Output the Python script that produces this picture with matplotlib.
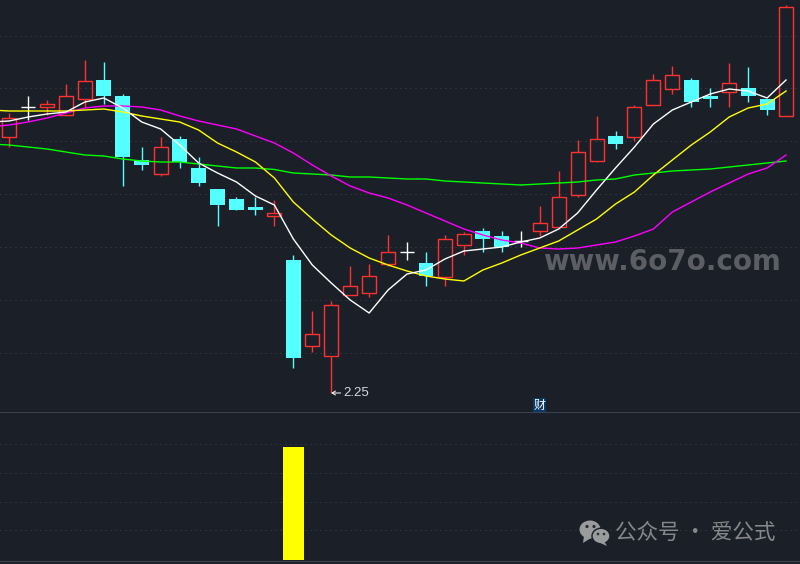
import numpy as np
import matplotlib
matplotlib.use("Agg")
import matplotlib.pyplot as plt
from matplotlib.patches import Ellipse, Polygon

# candle values: body top, body bottom, high, low
body_top = [5.00,5.11,5.14,5.22,5.37,5.38,5.22,4.58,4.71,4.79,4.50,4.29,4.19,4.11,4.05,3.58,2.84,3.13,3.32,3.42,3.66,3.66,3.55,3.79,3.84,3.87,3.82,3.77,3.95,4.21,4.66,4.79,4.82,5.11,5.38,5.43,5.38,5.22,5.35,5.30,5.19,6.11]
body_bot = [4.81,5.11,5.11,5.03,5.19,5.22,4.61,4.53,4.44,4.56,4.35,4.13,4.08,4.08,4.02,2.60,2.72,2.62,3.23,3.25,3.54,3.66,3.42,3.41,3.73,3.79,3.71,3.77,3.87,3.91,4.23,4.57,4.74,4.81,5.13,5.29,5.16,5.19,5.26,5.22,5.08,5.02]
highs = [5.05,5.22,5.18,5.34,5.58,5.56,5.24,4.71,4.81,4.82,4.61,4.29,4.21,4.21,4.18,3.63,3.07,3.17,3.52,3.54,3.83,3.76,3.66,3.83,3.86,3.90,3.87,3.87,4.12,4.47,4.78,5.02,4.87,5.13,5.44,5.52,5.40,5.30,5.55,5.51,5.19,6.13]
lows = [4.71,4.98,5.03,5.03,5.11,5.14,4.32,4.48,4.42,4.50,4.32,3.92,4.08,4.03,3.92,2.50,2.66,2.25,3.23,3.21,3.52,3.58,3.32,3.32,3.63,3.66,3.66,3.71,3.82,3.91,4.21,4.56,4.69,4.77,5.13,5.24,5.11,5.11,5.11,5.16,5.03,5.02]
# r = up (hollow red), c = down (solid cyan), d = doji (white cross)
kinds = list("rdrrrcccrccccc") + list("rcrrrrrdcrrccd") + list("rrrrcrrrccrccr")

ma_white = [4.96,4.97,5.01,5.04,5.06,5.16,5.20,5.10,4.96,4.89,4.73,4.55,4.45,4.36,4.22,4.13,3.79,3.53,3.35,3.18,3.05,3.28,3.44,3.48,3.59,3.67,3.69,3.71,3.76,3.80,3.89,4.05,4.28,4.50,4.71,4.94,5.08,5.16,5.24,5.29,5.27,5.20,5.38]
ma_yellow = [5.08,5.07,5.07,5.07,5.07,5.08,5.09,5.06,5.02,4.99,4.96,4.88,4.75,4.66,4.56,4.40,4.16,3.99,3.83,3.70,3.60,3.53,3.47,3.42,3.39,3.37,3.48,3.55,3.63,3.70,3.77,3.88,3.99,4.14,4.26,4.43,4.58,4.73,4.86,5.01,5.10,5.14,5.27]
ma_magenta = [4.91,4.93,4.96,5.00,5.05,5.10,5.12,5.12,5.11,5.08,5.02,4.97,4.93,4.89,4.82,4.75,4.65,4.53,4.42,4.32,4.25,4.20,4.13,4.05,3.97,3.89,3.83,3.78,3.75,3.70,3.69,3.70,3.73,3.76,3.82,3.89,4.06,4.16,4.26,4.35,4.44,4.50,4.63]
ma_green = [4.74,4.73,4.71,4.69,4.66,4.63,4.62,4.59,4.57,4.56,4.56,4.54,4.52,4.50,4.50,4.485,4.45,4.44,4.43,4.41,4.41,4.40,4.39,4.39,4.37,4.36,4.35,4.34,4.33,4.34,4.35,4.36,4.38,4.39,4.43,4.45,4.47,4.48,4.49,4.51,4.53,4.55,4.57]
volume = {15: 113}
price_grid = [5.82, 5.30, 4.77, 4.24, 3.71, 3.18, 2.65]
vol_grid = [116, 87, 58, 30]
low_value = 2.25
low_index = 17

BG = "#1b1f28"; RED = "#ff3232"; CYAN = "#54ffff"; GRID = "#3f434c"; EDGE = "#38424f"
PX = 0.72
W, H = 800, 564
fig = plt.figure(figsize=(W/100, H/100), dpi=100, facecolor=BG)
top_px, split_px, bot_px = 0, 412.3, 561.3
ax = fig.add_axes([0, 1 - split_px/H, 1, split_px/H])
axv = fig.add_axes([0, 1 - bot_px/H, 1, (bot_px - split_px)/H])
ax.set_zorder(2); ax.patch.set_alpha(1)
x0 = 9.1
xlim = (-x0/18.95, (800 - x0)/18.95)
for a in (ax, axv):
    a.set_facecolor(BG)
    a.set_xlim(*xlim)
    a.set_xticks([]); a.set_yticks([])
    for s in a.spines.values():
        s.set_visible(False)
ax.set_ylim(6.18 - split_px/100, 6.18)
axv.set_ylim(-1.3, 147.7)

for g in price_grid:
    ax.axhline(g, color=GRID, lw=PX, ls=(0, (1, 4)), zorder=1)
for g in vol_grid:
    axv.axhline(g, color=GRID, lw=PX, ls=(0, (1, 4)), zorder=1)
for name in ("top", "bottom"):
    axv.spines[name].set_visible(True)
    axv.spines[name].set_color(EDGE)
    axv.spines[name].set_linewidth(PX * 1.2)

LW = PX * 1.4
for i, k in enumerate(kinds):
    t, b, h, l = body_top[i], body_bot[i], highs[i], lows[i]
    if k == "r":
        ax.vlines(i, t, h, color=RED, lw=LW, zorder=3)
        ax.vlines(i, l, b, color=RED, lw=LW, zorder=3)
        ax.bar(i, t - b, 0.74, b, facecolor="none", edgecolor=RED, lw=LW, zorder=3)
    elif k == "c":
        ax.vlines(i, l, h, color=CYAN, lw=LW, zorder=3)
        ax.bar(i, t - b, 0.79, b, color=CYAN, lw=0, zorder=3)
    else:
        ax.vlines(i, l, h, color="white", lw=LW, zorder=3)
        ax.hlines(t, i - 0.37, i + 0.37, color="white", lw=LW, zorder=3)

xs = np.arange(-1, 42)
for vals, col in ((ma_green, "#00ff00"), (ma_magenta, "#ff00ff"), (ma_yellow, "#ffff00"), (ma_white, "#ffffff")):
    ax.plot(xs, vals, color=col, lw=1.0, zorder=4)

for i, v in volume.items():
    axv.bar(i, v, 1.11, 0, color="#ffff00", lw=0, zorder=3)

ax.annotate(f"{low_value:.2f}", xy=(low_index, low_value), xytext=(8.8, 0), textcoords="offset points",
            color="#d0dce8", fontsize=9.5, family="Liberation Sans", ha="left", va="center", zorder=5,
            arrowprops=dict(arrowstyle="->,head_length=0.25,head_width=0.15", color="white", lw=0.7,
                            shrinkA=0, shrinkB=0))

ax.text(28.0, 2.13, "财", color="white", fontsize=8.6, family="Noto Sans CJK SC", ha="center", va="center",
        bbox=dict(facecolor="#0b3a68", edgecolor="none", pad=0.6), zorder=5)

# WeChat mark and watermarks in pixel coordinates
ov = fig.add_axes([0, 0, 1, 1]); ov.set_axis_off(); ov.set_xlim(0, W); ov.set_ylim(H, 0); ov.patch.set_alpha(0)
ov.set_zorder(5)
ov.text(661.5, 262, "www.6o7o.com", color="#5c5e64", fontsize=20, fontweight="bold",
        family="DejaVu Sans", ha="center", va="center")
ov.text(695.5, 533, "公众号 · 爱公式", color="#85878a", fontsize=15.5,
        family="Noto Sans CJK SC", ha="center", va="center")
GR = "#9a9b9d"
ov.add_patch(Ellipse((590, 529.5), 21, 18, color=GR, lw=0))
ov.add_patch(Polygon([[584, 536], [583, 543], [591, 538]], color=GR, lw=0))
ov.add_patch(Ellipse((601, 536), 18, 15.5, ec=BG, fc=GR, lw=1))
ov.add_patch(Polygon([[604, 541], [607, 546], [598, 542]], color=GR, lw=0))
for cx, cy, r in ((587, 526.5, 1.6), (594, 526.5, 1.6), (598, 534, 1.3), (604, 534, 1.3)):
    ov.add_patch(Ellipse((cx, cy), r*2, r*2, color="#2a2c30", lw=0))

fig.savefig("out.png", dpi=100, facecolor=BG)
